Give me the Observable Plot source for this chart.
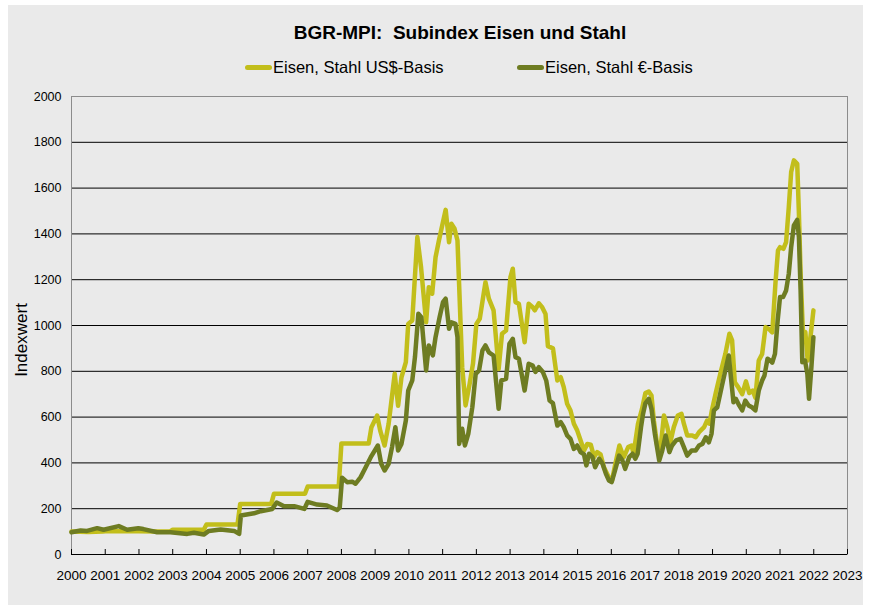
<!DOCTYPE html>
<html><head><meta charset="utf-8">
<script src="https://cdn.jsdelivr.net/npm/d3@7"></script>
<script src="https://cdn.jsdelivr.net/npm/@observablehq/plot@0.6"></script>
<style>
body{margin:0;background:#fff;font-family:"Liberation Sans",Arial,sans-serif;color:#000;}
#box{position:absolute;left:8px;top:5px;width:855px;height:600px;background:#eaeaea;overflow:hidden;}
#title{position:absolute;top:17px;left:152px;width:600px;text-align:center;font-weight:bold;font-size:19px;line-height:22px;}
.leg{position:absolute;top:52px;height:20px;line-height:20px;font-size:16.5px;white-space:nowrap;}
.sw{display:inline-block;width:27px;height:5px;border-radius:3px;vertical-align:middle;margin-right:1px;position:relative;top:-1px;}
#ylab{position:absolute;left:14px;top:335px;transform:translate(-50%,-50%) rotate(-90deg);font-size:17px;white-space:nowrap;}
#chart{position:absolute;left:0;top:75px;}
#chart svg g[aria-label="y-axis tick label"]{font-size:12.5px;}
#chart svg g[aria-label="x-axis tick label"]{font-size:13.5px;}
</style>
</head><body>
<div id="box">
  <div id="title">BGR-MPI:&nbsp; Subindex Eisen und Stahl</div>
  <div class="leg" style="left:237px"><span class="sw" style="background:#c2be1b"></span>Eisen, Stahl US$-Basis</div>
  <div class="leg" style="left:509px"><span class="sw" style="background:#6e7c22"></span>Eisen, Stahl €-Basis</div>
  <div id="ylab">Indexwert</div>
  <div id="chart"></div>
</div>
<script>
const seriesNames = ["Eisen, Stahl US$-Basis", "Eisen, Stahl €-Basis"];
const seriesColors = ["#c2be1b", "#6e7c22"];
const xTicks = [2000,2001,2002,2003,2004,2005,2006,2007,2008,2009,2010,2011,2012,2013,2014,2015,2016,2017,2018,2019,2020,2021,2022,2023];
const yTicks = [0,200,400,600,800,1000,1200,1400,1600,1800,2000];

// US$-Basis (time in decimal years, index values)
const usdT = [2000.00,2000.50,2000.92,2001.00,2001.92,2002.00,2002.50,2002.92,2003.00,2003.92,2004.00,2004.92,2005.00,2005.92,2006.00,2006.92,2007.00,2007.92,2008.00,
2008.81,2008.89,2009.06,2009.15,2009.28,2009.40,2009.58,2009.68,2009.78,2009.91,2009.98,2010.10,2010.25,2010.36,2010.51,2010.59,2010.69,2010.79,2010.89,
2011.09,2011.19,2011.26,2011.35,2011.44,2011.58,2011.68,2011.80,2011.90,2012.00,2012.10,2012.27,2012.37,2012.51,2012.66,2012.76,2012.88,
2013.01,2013.08,2013.16,2013.26,2013.43,2013.55,2013.67,2013.73,2013.85,2013.95,2014.05,2014.12,2014.27,2014.40,2014.50,2014.59,2014.69,2014.79,2014.89,2014.99,
2015.09,2015.19,2015.29,2015.39,2015.49,2015.58,2015.68,2015.78,2015.92,2016.02,2016.12,2016.24,2016.37,2016.50,2016.60,2016.66,2016.79,2016.91,
2017.01,2017.11,2017.19,2017.26,2017.36,2017.44,2017.56,2017.66,2017.75,2017.85,2017.97,2018.08,2018.15,2018.25,2018.40,2018.50,2018.60,2018.75,2018.84,2018.91,2018.98,
2019.10,2019.23,2019.38,2019.50,2019.58,2019.66,2019.76,2019.88,2019.99,2020.09,2020.19,2020.27,2020.37,2020.47,2020.57,2020.67,2020.77,2020.87,2020.94,
2021.00,2021.10,2021.18,2021.26,2021.33,2021.41,2021.51,2021.56,2021.61,2021.68,2021.75,2021.82,2021.89,2021.99];
const usdV = [100,98,100,101,101,102,100,101,108,108,131,131,221,221,265,265,297,297,485,
485,556,607,541,476,571,789,650,774,840,1007,1022,1386,1255,1014,1167,1139,1298,1371,
1505,1364,1444,1424,1371,818,651,745,833,1007,1029,1189,1117,1066,810,964,978,
1211,1248,1102,1095,927,1095,1080,1066,1097,1080,1050,910,900,760,774,731,658,629,571,541,
498,454,483,480,425,447,437,381,338,323,396,476,425,469,476,440,571,636,
705,712,694,585,476,440,607,556,490,556,607,614,571,520,520,512,534,556,585,571,629,
709,789,876,964,935,752,731,700,756,705,716,685,847,876,993,985,970,1197,1328,
1342,1335,1364,1517,1670,1721,1706,1488,1226,964,971,847,934,1066];

// €-Basis
const eurT = [2000.00,2000.27,2000.46,2000.76,2000.95,2001.40,2001.65,2001.98,2002.13,2002.54,2002.93,2003.43,2003.63,2003.92,2004.07,2004.42,2004.82,2004.97,
2005.02,2005.41,2005.61,2005.95,2006.08,2006.30,2006.60,2006.90,2007.00,2007.28,2007.57,2007.87,2007.95,2008.02,
2008.17,2008.32,2008.42,2008.57,2008.72,2008.87,2009.08,2009.18,2009.28,2009.40,2009.50,2009.60,2009.68,2009.78,2009.91,2009.98,
2010.10,2010.18,2010.28,2010.37,2010.51,2010.59,2010.71,2010.79,2010.91,2011.01,2011.09,2011.19,2011.26,2011.38,2011.44,2011.49,2011.58,2011.66,2011.76,2011.88,2011.98,
2012.08,2012.18,2012.27,2012.37,2012.51,2012.66,2012.74,2012.88,2012.98,2013.08,2013.16,2013.26,2013.43,2013.55,2013.67,2013.75,2013.85,2013.97,
2014.07,2014.17,2014.27,2014.40,2014.50,2014.59,2014.69,2014.79,2014.89,2014.99,2015.09,2015.19,2015.26,2015.34,2015.44,2015.52,2015.64,2015.74,2015.84,2015.93,
2016.01,2016.11,2016.23,2016.33,2016.41,2016.53,2016.63,2016.71,2016.78,2016.88,2016.94,2017.01,2017.11,2017.19,2017.29,2017.42,2017.51,2017.61,2017.72,2017.80,2017.92,
2018.05,2018.15,2018.25,2018.38,2018.50,2018.60,2018.70,2018.80,2018.89,2018.97,2019.04,2019.14,2019.27,2019.38,2019.48,2019.62,2019.69,2019.79,2019.88,2019.97,
2020.07,2020.17,2020.27,2020.37,2020.47,2020.54,2020.63,2020.71,2020.77,2020.85,2020.93,2021.00,2021.09,2021.18,2021.26,2021.33,2021.41,2021.51,2021.56,2021.61,2021.66,2021.74,2021.81,2021.86,2021.93,2021.99];
const eurV = [97,105,103,115,108,124,108,115,111,97,97,90,95,87,103,109,103,90,
170,180,189,199,227,211,211,199,230,218,214,194,205,335,
316,318,309,338,381,425,476,396,367,396,469,556,454,483,585,716,
760,862,1051,1036,804,913,869,949,1036,1102,1117,986,1014,1007,949,483,549,476,527,643,789,
804,891,913,883,869,636,760,767,920,942,862,855,716,833,825,797,818,797,
760,672,660,563,578,556,520,505,461,476,447,437,389,440,425,381,418,396,352,323,
316,367,432,410,374,425,440,418,440,556,614,660,680,636,527,410,454,520,447,476,498,
505,469,432,454,454,476,483,512,490,527,629,643,731,804,869,665,680,651,629,672,
651,643,629,716,760,782,855,847,838,876,1022,1124,1124,1153,1226,1342,1437,1461,1386,1153,840,847,789,680,818,949];

const usd = usdT.map((t, i) => ({t, v: usdV[i], s: seriesNames[0]}));
const eur = eurT.map((t, i) => ({t, v: eurV[i], s: seriesNames[1]}));

const chart = Plot.plot({
  width: 855, height: 525,
  marginLeft: 63, marginRight: 16, marginTop: 16, marginBottom: 51,
  style: {background: "transparent", fontFamily: "'Liberation Sans', Arial, sans-serif", color: "#000", overflow: "visible"},
  x: {domain: [2000, 2023]},
  y: {domain: [0, 2000]},
  marks: [
    Plot.gridY(yTicks.slice(1, -1), {stroke: "#000", strokeOpacity: 1, strokeWidth: 1}),
    Plot.frame({stroke: "#8c8c8c"}),
    Plot.ruleY([0], {stroke: "#000"}),
    Plot.axisY(yTicks, {tickSize: 0, tickPadding: 10, label: null, tickFormat: d => String(d)}),
    Plot.axisX(xTicks, {tickSize: 0, tickPadding: 16, tickFormat: d => String(d), label: null}),
    Plot.axisX(xTicks, {tickSize: -5, tickFormat: () => "", label: null, stroke: "#000"}),
    Plot.line(usd, {x: "t", y: "v", stroke: seriesColors[0], strokeWidth: 4.5, strokeLinejoin: "round", strokeLinecap: "round"}),
    Plot.line(eur, {x: "t", y: "v", stroke: seriesColors[1], strokeWidth: 4.5, strokeLinejoin: "round", strokeLinecap: "round"})
  ]
});
document.getElementById("chart").appendChild(chart);
</script>
</body></html>
